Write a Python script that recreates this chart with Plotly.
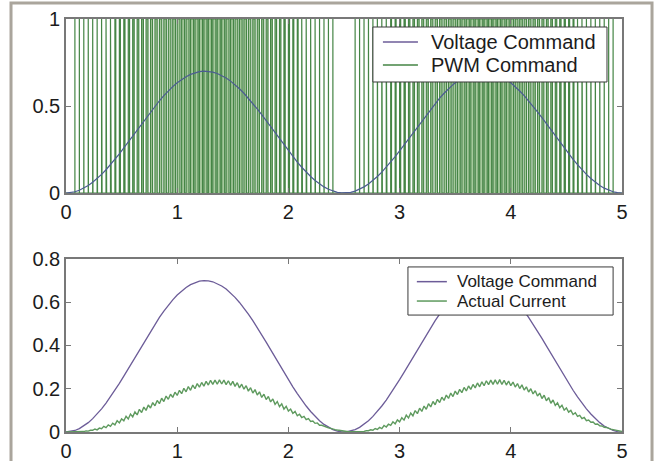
import numpy as np
import plotly.graph_objects as go

# ---------------- data ----------------
t_end = 5.0
x_ticks = [0, 1, 2, 3, 4, 5]
top_y_ticks = [0, 0.5, 1]
bottom_y_ticks = [0, 0.2, 0.4, 0.6, 0.8]
top_legend = ["Voltage Command", "PWM Command"]
bottom_legend = ["Voltage Command", "Actual Current"]
pwm_min_duty = 0.005

# voltage command, one value per PWM period (also the PWM duty cycle)
voltage_command = [
    0, 0.0018, 0.0070, 0.0158, 0.0279, 0.0433, 0.0618, 0.0831, 0.1072, 0.1337,
    0.1625, 0.1931, 0.2253, 0.2587, 0.2931, 0.3280, 0.3632, 0.3982, 0.4328, 0.4665,
    0.4990, 0.5301, 0.5593, 0.5864, 0.6111, 0.6332, 0.6524, 0.6685, 0.6815, 0.6911,
    0.6972, 0.6999, 0.6990, 0.6946, 0.6867, 0.6754, 0.6609, 0.6431, 0.6225, 0.5990,
    0.5731, 0.5449, 0.5147, 0.4829, 0.4498, 0.4156, 0.3807, 0.3456, 0.3105, 0.2758,
    0.2418, 0.2090, 0.1775, 0.1479, 0.1202, 0.0949, 0.0721, 0.0522, 0.0352, 0.0214,
    0.0110, 0.0040, 0.0004,
    0.0004, 0.0040, 0.0110, 0.0214, 0.0352, 0.0522, 0.0721, 0.0949, 0.1202, 0.1479,
    0.1775, 0.2090, 0.2418, 0.2758, 0.3105, 0.3456, 0.3807, 0.4156, 0.4498, 0.4829,
    0.5147, 0.5449, 0.5731, 0.5990, 0.6225, 0.6431, 0.6609, 0.6754, 0.6867, 0.6946,
    0.6990, 0.6999, 0.6972, 0.6911, 0.6815, 0.6685, 0.6524, 0.6332, 0.6111, 0.5864,
    0.5593, 0.5301, 0.4990, 0.4665, 0.4328, 0.3982, 0.3632, 0.3280, 0.2931, 0.2587,
    0.2253, 0.1931, 0.1625, 0.1337, 0.1072, 0.0831, 0.0618, 0.0433, 0.0279, 0.0158,
    0.0070, 0.0018, 0,
]

# actual current, sampled twice per PWM period (troughs and peaks of the ripple)
actual_current = [
    0.000, 0.000, 0.000, 0.001, 0.001, 0.001, 0.002, 0.003, 0.002, 0.005,
    0.004, 0.008, 0.008, 0.014, 0.010, 0.018, 0.015, 0.026, 0.020, 0.033,
    0.026, 0.041, 0.033, 0.052, 0.042, 0.061, 0.052, 0.073, 0.060, 0.083,
    0.070, 0.093, 0.079, 0.105, 0.090, 0.115, 0.100, 0.125, 0.111, 0.136,
    0.121, 0.146, 0.131, 0.156, 0.141, 0.166, 0.151, 0.175, 0.160, 0.184,
    0.169, 0.193, 0.177, 0.202, 0.186, 0.210, 0.193, 0.217, 0.200, 0.224,
    0.207, 0.229, 0.212, 0.234, 0.217, 0.239, 0.220, 0.240, 0.221, 0.241,
    0.222, 0.240, 0.219, 0.237, 0.216, 0.234, 0.211, 0.228, 0.204, 0.221,
    0.198, 0.214, 0.189, 0.205, 0.180, 0.196, 0.171, 0.186, 0.160, 0.175,
    0.150, 0.164, 0.139, 0.153, 0.128, 0.141, 0.117, 0.130, 0.106, 0.119,
    0.097, 0.106, 0.086, 0.095, 0.075, 0.082, 0.067, 0.072, 0.057, 0.062,
    0.049, 0.051, 0.040, 0.042, 0.031, 0.031, 0.026, 0.024, 0.019, 0.017,
    0.013, 0.011, 0.009, 0.007, 0.005, 0.003,
    0.002, 0.001, 0.001, 0.001, 0.001, 0.002, 0.003, 0.004, 0.003, 0.006,
    0.006, 0.010, 0.008, 0.016, 0.012, 0.021, 0.016, 0.030, 0.023, 0.036,
    0.031, 0.047, 0.038, 0.056, 0.047, 0.066, 0.055, 0.078, 0.065, 0.088,
    0.075, 0.099, 0.085, 0.110, 0.095, 0.120, 0.105, 0.131, 0.116, 0.141,
    0.126, 0.151, 0.136, 0.161, 0.146, 0.171, 0.155, 0.180, 0.164, 0.189,
    0.173, 0.197, 0.182, 0.206, 0.190, 0.213, 0.197, 0.220, 0.204, 0.227,
    0.209, 0.232, 0.214, 0.237, 0.219, 0.240, 0.220, 0.241, 0.221, 0.242,
    0.220, 0.239, 0.217, 0.236, 0.214, 0.231, 0.208, 0.224, 0.201, 0.218,
    0.194, 0.209, 0.185, 0.200, 0.176, 0.191, 0.166, 0.180, 0.155, 0.170,
    0.144, 0.159, 0.133, 0.148, 0.123, 0.135, 0.112, 0.124, 0.101, 0.111,
    0.092, 0.100, 0.081, 0.089, 0.072, 0.077, 0.062, 0.067, 0.052, 0.055,
    0.045, 0.046, 0.036, 0.037, 0.029, 0.028, 0.022, 0.021, 0.015, 0.013,
    0.011, 0.009, 0.007, 0.005, 0.003,
]

# ---------------- build traces ----------------
t_v = np.linspace(0, t_end, len(voltage_command))
t_i = np.linspace(0, t_end, len(actual_current))
pwm_period = t_v[1] - t_v[0]

pwm_x, pwm_y = [0.0], [0.0]
for k in range(len(voltage_command) - 1):
    d = voltage_command[k]
    if d >= pwm_min_duty:
        t0 = float(t_v[k])
        t1 = t0 + d * pwm_period
        pwm_x += [t0, t0, t1, t1]
        pwm_y += [0, 1, 1, 0]
pwm_x.append(t_end)
pwm_y.append(0)

V_TOP = "#4c5c92"
V_BOT = "#6c5c98"
G_PWM = "#458545"
G_CUR = "#5e9a5e"
AX = "#787878"
FONT = "Liberation Sans, Arial, sans-serif"

fig = go.Figure()
fig.add_trace(go.Scatter(x=pwm_x, y=pwm_y, mode="lines", line=dict(color=G_PWM, width=1.2),
                         fill="tozeroy", fillcolor="rgba(150,192,140,0.85)",
                         showlegend=False, xaxis="x", yaxis="y"))
fig.add_trace(go.Scatter(x=t_v, y=voltage_command, mode="lines", line=dict(color=V_TOP, width=1.2),
                         showlegend=False, xaxis="x", yaxis="y"))
fig.add_trace(go.Scatter(x=t_v, y=voltage_command, mode="lines", line=dict(color=V_BOT, width=1.3),
                         showlegend=False, xaxis="x2", yaxis="y2"))
fig.add_trace(go.Scatter(x=t_i, y=actual_current, mode="lines", line=dict(color=G_CUR, width=1.4),
                         showlegend=False, xaxis="x2", yaxis="y2"))

axis_common = dict(showline=True, linecolor=AX, linewidth=1.6, mirror="ticks",
                   ticks="inside", ticklen=5, tickcolor=AX, tickwidth=1.2,
                   showgrid=False, zeroline=False, automargin=False,
                   tickfont=dict(family=FONT, size=20, color="#1c1c1c"))

fig.update_layout(
    width=657, height=461,
    margin=dict(l=66, r=35, t=19, b=29, autoexpand=False),
    paper_bgcolor="white", plot_bgcolor="white",
    showlegend=False,
    xaxis=dict(domain=[0, 1], range=[0, t_end], tickvals=x_ticks, anchor="y", **axis_common),
    yaxis=dict(domain=[0.5787, 1], range=[0, 1], tickvals=top_y_ticks,
               ticktext=["0", "0.5", "1"], anchor="x", **axis_common),
    xaxis2=dict(domain=[0, 1], range=[0, t_end], tickvals=x_ticks, anchor="y2", **axis_common),
    yaxis2=dict(domain=[0, 0.4189], range=[0, 0.8], tickvals=bottom_y_ticks,
                ticktext=["0", "0.2", "0.4", "0.6", "0.8"], anchor="x2", **axis_common),
)

shapes = []
annotations = []

def add_legend(xs, ys, box, lines_x, rows_y, text_x, labels, colors, fsize):
    shapes.append(dict(type="rect", xref=xs, yref=ys, x0=box[0], x1=box[1], y0=box[2], y1=box[3],
                       fillcolor="white", line=dict(color="#3a3a3a", width=1), layer="above"))
    for ry, lab, col in zip(rows_y, labels, colors):
        shapes.append(dict(type="line", xref=xs, yref=ys, x0=lines_x[0], x1=lines_x[1], y0=ry, y1=ry,
                           line=dict(color=col, width=1.5), layer="above"))
        annotations.append(dict(xref=xs, yref=ys, x=text_x, y=ry, text=lab, showarrow=False,
                                xanchor="left", yanchor="middle",
                                font=dict(family=FONT, size=fsize, color="#1c1c1c")))

add_legend("x domain", "y domain", (0.552, 0.973, 0.638, 0.954), (0.570, 0.633),
           (0.868, 0.736), 0.652, top_legend, [V_BOT, G_PWM], 20)
add_legend("x2 domain", "y2 domain", (0.615, 0.984, 0.676, 0.954), (0.631, 0.685),
           (0.869, 0.757), 0.700, bottom_legend, [V_BOT, G_CUR], 17)

# outer photo frame
shapes.append(dict(type="rect", xref="paper", yref="paper", x0=-0.0989, x1=1.054, y0=-0.12, y1=1.0387,
                   line=dict(color="#aaa59c", width=3), fillcolor="rgba(0,0,0,0)", layer="above"))

fig.update_layout(shapes=shapes, annotations=annotations)
fig.write_html("out.html", config={"displayModeBar": False},
               post_script="document.body.style.margin='0';document.body.style.padding='0';")
